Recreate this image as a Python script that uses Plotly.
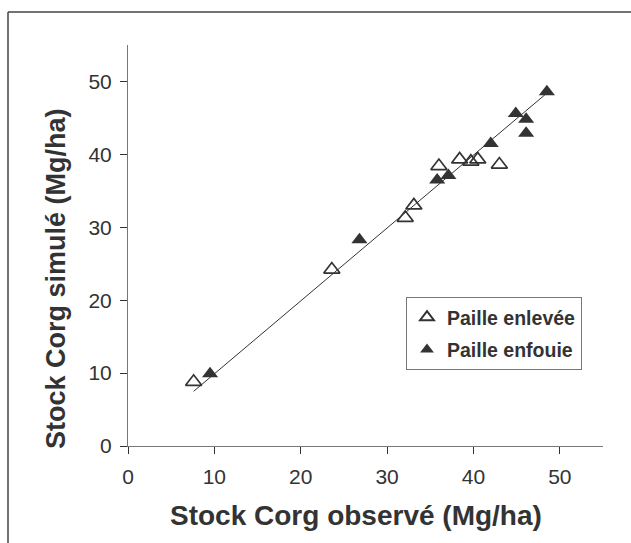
import plotly.graph_objects as go

# Data
obs_enlevee = [7.6, 23.6, 32.1, 33.1, 36.0, 38.4, 39.7, 40.5, 43.0]
sim_enlevee = [8.8, 24.2, 31.3, 33.0, 38.4, 39.3, 39.0, 39.3, 38.6]

obs_enfouie = [9.5, 26.8, 35.8, 37.1, 42.0, 44.9, 46.1, 46.1, 48.5]
sim_enfouie = [9.9, 28.3, 36.5, 37.1, 41.5, 45.6, 44.8, 42.9, 48.6]

fit_x = [7.6, 48.5]
fit_y = [7.5, 48.4]

tick_vals = [0, 10, 20, 30, 40, 50]

FONT = "Liberation Sans, Arial, Helvetica, sans-serif"
DARK = "#333333"

fig = go.Figure()

fig.add_trace(go.Scatter(
    x=fit_x, y=fit_y, mode="lines",
    line=dict(color=DARK, width=1), showlegend=False, hoverinfo="skip"))

fig.add_trace(go.Scatter(
    x=obs_enlevee, y=sim_enlevee, mode="markers", name="Paille enlevée",
    legendgroup="a",
    marker=dict(symbol="triangle-up-open", size=14, color=DARK,
                line=dict(color=DARK, width=1.7))))

fig.add_trace(go.Scatter(
    x=obs_enfouie, y=sim_enfouie, mode="markers", name="Paille enfouie",
    legendgroup="b",
    marker=dict(symbol="triangle-up", size=14, color=DARK)))

axis_common = dict(
    range=[0, 55], tickvals=tick_vals, showgrid=False, zeroline=False,
    showline=True, linecolor="#777777", linewidth=1,
    ticks="outside", ticklen=7, tickcolor=DARK, tickwidth=1,
    tickfont=dict(family=FONT, size=21, color=DARK),
)

fig.update_xaxes(ticklabelstandoff=5, **axis_common)
fig.update_yaxes(ticklabelstandoff=4, **axis_common)

L, R, T, B = 128, 28, 45, 97
W, H = 631, 543
pw, ph = W - L - R, H - T - B

def px_x(p):
    return (p - L) / pw

def px_y(p):
    return (H - B - p) / ph

fig.update_layout(
    width=W, height=H, autosize=False,
    margin=dict(l=L, r=R, t=T, b=B),
    paper_bgcolor="white", plot_bgcolor="white",
    font=dict(family=FONT, color=DARK),
    legend=dict(
        x=px_x(406), y=px_y(297), xanchor="left", yanchor="top",
        bordercolor="#777777", borderwidth=1, bgcolor="white",
        font=dict(family=FONT, size=19.5, color=DARK, weight="bold"),
        tracegroupgap=4, itemsizing="constant",
    ),
    annotations=[
        dict(text="<b>Stock Corg observé (Mg/ha)</b>", xref="paper", yref="paper",
             x=px_x(356), y=px_y(515), xanchor="center", yanchor="middle",
             showarrow=False, font=dict(family=FONT, size=28, color=DARK)),
        dict(text="<b>Stock Corg simulé (Mg/ha)</b>", xref="paper", yref="paper",
             x=px_x(56), y=px_y(279), xanchor="center", yanchor="middle",
             textangle=-90,
             showarrow=False, font=dict(family=FONT, size=27, color=DARK)),
    ],
    shapes=[
        dict(type="line", xref="paper", yref="paper",
             x0=px_x(8), x1=px_x(8), y0=px_y(12), y1=px_y(560),
             line=dict(color="#444444", width=1.5)),
        dict(type="line", xref="paper", yref="paper",
             x0=px_x(8), x1=px_x(640), y0=px_y(12), y1=px_y(12),
             line=dict(color="#444444", width=1.5)),
    ],
)

fig.write_html("out.html", config={"displayModeBar": False},
               post_script="document.body.style.margin='0';")
